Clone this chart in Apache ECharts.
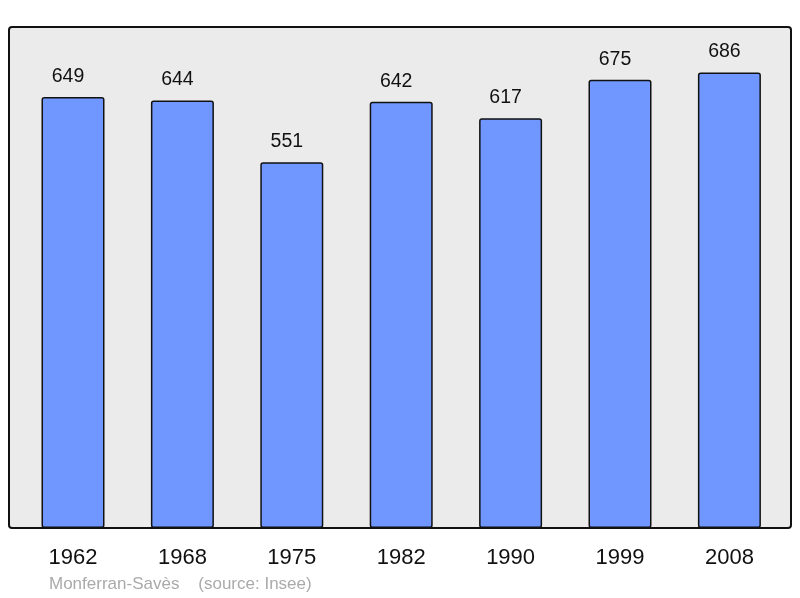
<!DOCTYPE html>
<html><head><meta charset="utf-8">
<script src="https://cdn.jsdelivr.net/npm/echarts@6/dist/echarts.min.js"></script>
<style>html,body{margin:0;padding:0;background:#fff}#c{width:800px;height:598px}</style>
</head><body><div id="c"></div>
<script>
const years = ['1962','1968','1975','1982','1990','1999','2008'];
const population = [649, 644, 551, 642, 617, 675, 686];
const sourceText = 'Monferran-Savès    (source: Insee)';

const chart = echarts.init(document.getElementById('c'), null, {renderer:'canvas'});
chart.setOption({
  animation: false,
  backgroundColor: '#ffffff',
  graphic: [
    {type:'rect', z: -10, shape:{x:9, y:27, width:782, height:501, r:3},
     style:{fill:'#ebebeb', stroke:'#111', lineWidth:2}},
    {type:'text', left: 49, top: 576, style:{text: sourceText, fill:'#aaaaaa', font:'17px "Liberation Sans", Arial, sans-serif'}}
  ],
  grid: {left: 18.3, right: 15.9, top: 27, bottom: 70},
  xAxis: {
    type: 'category', data: years,
    axisLine: {show:false}, axisTick: {show:false},
    axisLabel: {color:'#111', fontSize: 22, fontFamily:'"Liberation Sans", Arial, sans-serif', margin: 19}
  },
  yAxis: {type:'value', min:0, max:754.6, show:false, splitLine:{show:false}},
  series: [{
    type:'bar', data: population, barWidth: 63,
    itemStyle: {color:'#7097ff', borderColor:'#111', borderWidth:1.5, borderRadius:2},
    label: {show:true, position:'top', distance: 10.5, offset:[-5, 0], color:'#111', fontSize: 19.5,
      fontFamily:'"Liberation Sans", Arial, sans-serif'}
  }]
});
</script></body></html>
